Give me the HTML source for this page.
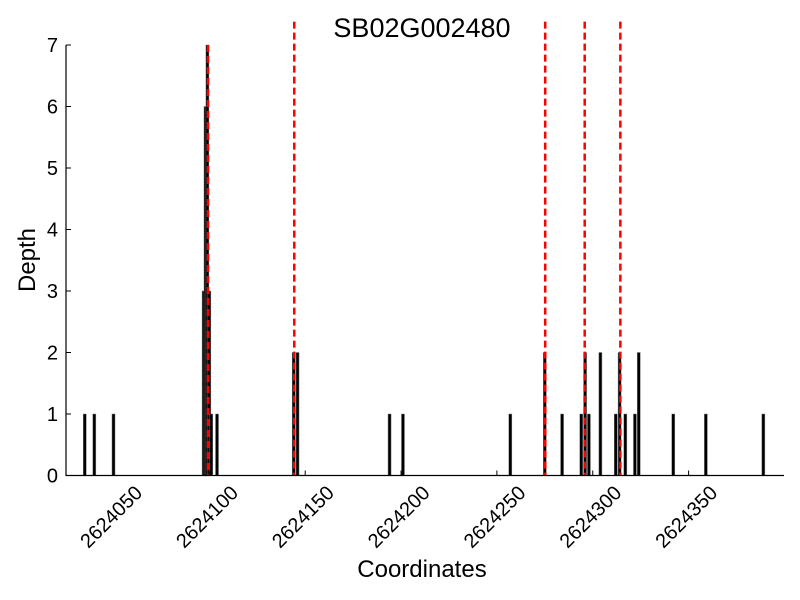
<!DOCTYPE html>
<html><head><meta charset="utf-8"><style>
body{margin:0;background:#fff}
svg{display:block;font-family:"Liberation Sans",sans-serif}
</style></head><body>
<svg id="chart" width="800" height="600">
<text x="422" y="37" font-size="27" text-anchor="middle">SB02G002480</text>
<text x="422" y="577" font-size="24" text-anchor="middle">Coordinates</text>
<text transform="translate(35,260) rotate(-90)" font-size="24" text-anchor="middle">Depth</text>
<g id="bars"></g><g id="marks"></g><g id="axes"></g>
</svg>
<script>
const positions=[2624035,2624040,2624050,2624097,2624098,2624099,2624100,2624101,2624104,2624144,2624146,2624194,2624201,2624257,2624275,2624284,2624294,2624296,2624298,2624304,2624312,2624314,2624317,2624322,2624324,2624342,2624359,2624389];
const depths=[1,1,1,3,6,7,3,1,1,2,2,1,1,1,2,1,1,2,1,2,1,2,1,1,2,1,1,1];
const snpPositions=[2624099.3,2624144.3,2624275.2,2624295.8,2624314.4];
const snpTopDepth=[7,7.38,7.38,7.38,7.38];
const xTicks=[2624050,2624100,2624150,2624200,2624250,2624300,2624350];
const yTicks=[0,1,2,3,4,5,6,7];
const NS='http://www.w3.org/2000/svg';
const X=v=>113.5+(v-2624050)*1.917;
const Y=v=>475.5-v*61.5;
function mk(t,a,p){const e=document.createElementNS(NS,t);for(const k in a)e.setAttribute(k,a[k]);document.getElementById(p).appendChild(e);return e;}
positions.forEach((p,i)=>{
 const r=mk('rect',{x:X(p)-1.5,y:Y(depths[i]),width:3,height:Y(0)-Y(depths[i]),fill:'#000',stroke:'#777','stroke-width':0.5},'bars');
 
 
});
snpPositions.forEach((p,i)=>{
 const l=mk('line',{x1:X(p),x2:X(p),y1:Y(snpTopDepth[i]),y2:Y(0),stroke:'#f00','stroke-width':2.5,'stroke-dasharray':'7,4'},'marks');
 
 
});
mk('line',{x1:66,x2:66,y1:45,y2:476,stroke:'#000','stroke-width':1.2},'axes');
mk('line',{x1:66,x2:784,y1:475.5,y2:475.5,stroke:'#000','stroke-width':1.2},'axes');
yTicks.forEach(v=>{
 mk('line',{x1:66,x2:71,y1:Y(v),y2:Y(v),stroke:'#000'},'axes');
 const t=mk('text',{x:58,y:Y(v)+7,'font-size':20,'text-anchor':'end'},'axes');t.textContent=v;
 
 
});
xTicks.forEach(v=>{
 mk('line',{x1:X(v),x2:X(v),y1:475.5,y2:470.5,stroke:'#000'},'axes');
 const t=mk('text',{transform:`translate(${X(v)+30},${494}) rotate(-45)`,'font-size':20,'text-anchor':'end'},'axes');t.textContent=v;
 
 
});
</script>
</body></html>
